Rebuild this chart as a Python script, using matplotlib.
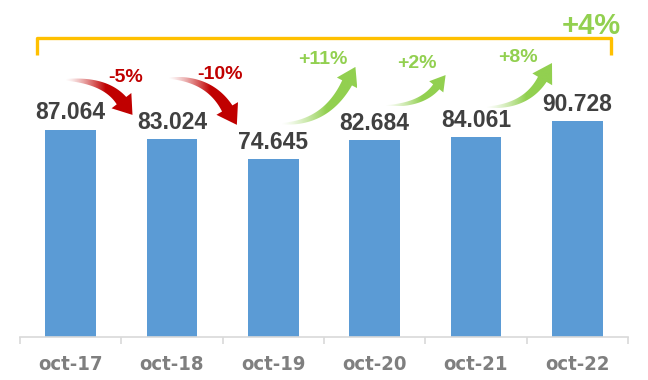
import numpy as np
import matplotlib
matplotlib.use('Agg')
import matplotlib.pyplot as plt
from matplotlib.patches import Polygon
from matplotlib.colors import to_rgb

# ---------------- datos ----------------
categorias = ['oct-17', 'oct-18', 'oct-19', 'oct-20', 'oct-21', 'oct-22']
valores = [87.064, 83.024, 74.645, 82.684, 84.061, 90.728]
etiquetas = ['87.064', '83.024', '74.645', '82.684', '84.061', '90.728']

# ---------------- estilo ----------------
AZUL = '#5b9bd5'
ROJO = '#c00000'
VERDE = '#92d050'
AMARILLO = '#ffc000'
GRIS_TXT = '#404040'
GRIS_EJE = '#d9d9d9'
FUENTE = ['Liberation Sans', 'DejaVu Sans']

fig = plt.figure(figsize=(6.48, 3.80), dpi=100)
ax = fig.add_axes([20 / 648, 43 / 380, 608 / 648, 337 / 380])
n = len(valores)
x = np.arange(n)
XLIM = (-0.5, n - 0.5)
YLIM = (0, 141.6)
ax.set_xlim(*XLIM)
ax.set_ylim(*YLIM)
ax.set_autoscale_on(False)

ax.bar(x, valores, width=0.5, color=AZUL, zorder=2)

for xi, v, t in zip(x, valores, etiquetas):
    ax.annotate(t, (xi, v), xytext=(0, 7.5), textcoords='offset points',
                ha='center', va='baseline', fontsize=16.5, fontweight='bold',
                color=GRIS_TXT, family=FUENTE)

# eje
for s in ['top', 'right', 'left']:
    ax.spines[s].set_visible(False)
ax.spines['bottom'].set_color(GRIS_EJE)
ax.spines['bottom'].set_linewidth(1.2)
ax.set_yticks([])
ax.set_xticks(x)
ax.set_xticklabels(categorias, fontsize=14.5, fontweight='bold', color='#7f7f7f',
                   family=['Liberation Sans Narrow', 'DejaVu Sans Condensed'],
                   fontstretch='condensed')
ax.set_xticks(np.arange(n + 1) - 0.5, minor=True)
ax.tick_params(axis='x', which='major', length=0, pad=13)
ax.tick_params(axis='x', which='minor', length=5, color=GRIS_EJE, width=1.2)


# ---------------- flechas curvas con degradado ----------------
def flecha(p0, tip, color, shaft_w, head_w, head_l):
    tr = ax.transData
    a = tr.transform(p0)
    b = tr.transform(tip)
    c = np.array([a[0] + 0.6 * (b[0] - a[0]), a[1]])
    d = (b - c) / np.linalg.norm(b - c)
    base = b - head_l * d
    t = np.linspace(0, 1, 60)[:, None]
    pts = (1 - t) ** 2 * a + 2 * (1 - t) * t * c + t ** 2 * base
    der = 2 * (1 - t) * (c - a) + 2 * t * (base - c)
    der = der / np.linalg.norm(der, axis=1)[:, None]
    nor = np.column_stack([-der[:, 1], der[:, 0]])
    w = shaft_w * (0.1 + 0.9 * t ** 0.8) / 2
    izq = pts + nor * w
    der_ = pts - nor * w
    nb = np.array([-d[1], d[0]])
    cabeza = np.array([base + nb * head_w / 2, b, base - nb * head_w / 2])
    poly = np.vstack([izq, cabeza, der_[::-1]])
    poly_d = tr.inverted().transform(poly)
    patch = Polygon(poly_d, closed=True, facecolor='none', edgecolor='none')
    ax.add_patch(patch)
    x0, x1 = poly_d[:, 0].min(), poly_d[:, 0].max()
    y0, y1 = poly_d[:, 1].min(), poly_d[:, 1].max()
    gx = np.linspace(0, 1, 200)
    alpha = np.clip(gx / 0.6, 0, 1) ** 1.3
    img = np.zeros((2, 200, 4))
    img[..., :3] = to_rgb(color)
    img[..., 3] = alpha
    im = ax.imshow(img, extent=(x0, x1, y0, y1), aspect='auto',
                   interpolation='bilinear', zorder=3, origin='lower')
    im.set_clip_path(patch)


# (desplazamientos de cola / punta respecto al valor de cada barra)
flechas = [
    # i, dx cola, dy cola, dx punta, dy punta, grosor, cabeza ancho, cabeza largo
    (0, -0.06, 21.0, 0.61, 10.3, 12, 25, 18),
    (1, -0.04, 25.8, 0.64, 14.5, 12, 25, 19),
    (2, 0.08, 15.0, 0.81, 30.8, 11, 23, 18),
    (3, 0.10, 14.5, 0.70, 26.0, 8, 18, 15),
    (4, 0.10, 12.5, 0.75, 24.4, 10, 23, 19),
]
textos = [(0.54, 109.2), (1.47, 110.1), (2.49, 116.4), (3.42, 115.1), (4.41, 117.6)]

for (i, dxc, dyc, dxp, dyp, sw, hw, hl), (tx, ty) in zip(flechas, textos):
    v0, v1 = valores[i], valores[i + 1]
    cambio = (v1 / v0 - 1) * 100
    col = VERDE if cambio >= 0 else ROJO
    flecha((i + dxc, v0 + dyc), (i + dxp, v1 + dyp), col, sw, hw, hl)
    ax.text(tx, ty, '{:+.0f}%'.format(cambio), ha='center', va='center',
            fontsize=14, fontweight='bold', color=col, family=FUENTE,
            zorder=4)

# ---------------- llave total ----------------
total = (valores[-1] / valores[0] - 1) * 100
ax.plot([-0.33, -0.33, n - 0.67, n - 0.67], [118.5, 125.6, 125.6, 118.5],
        color=AMARILLO, lw=2.4, solid_joinstyle='round', solid_capstyle='butt',
        clip_on=False, zorder=3)
ax.text(n - 0.86, 130.7, '{:+.0f}%'.format(total), ha='center', va='center',
        fontsize=21, fontweight='bold', color=VERDE, family=FUENTE,
        clip_on=False, zorder=4)

ax.set_xlim(*XLIM)
ax.set_ylim(*YLIM)
fig.savefig('out.png', dpi=100)
